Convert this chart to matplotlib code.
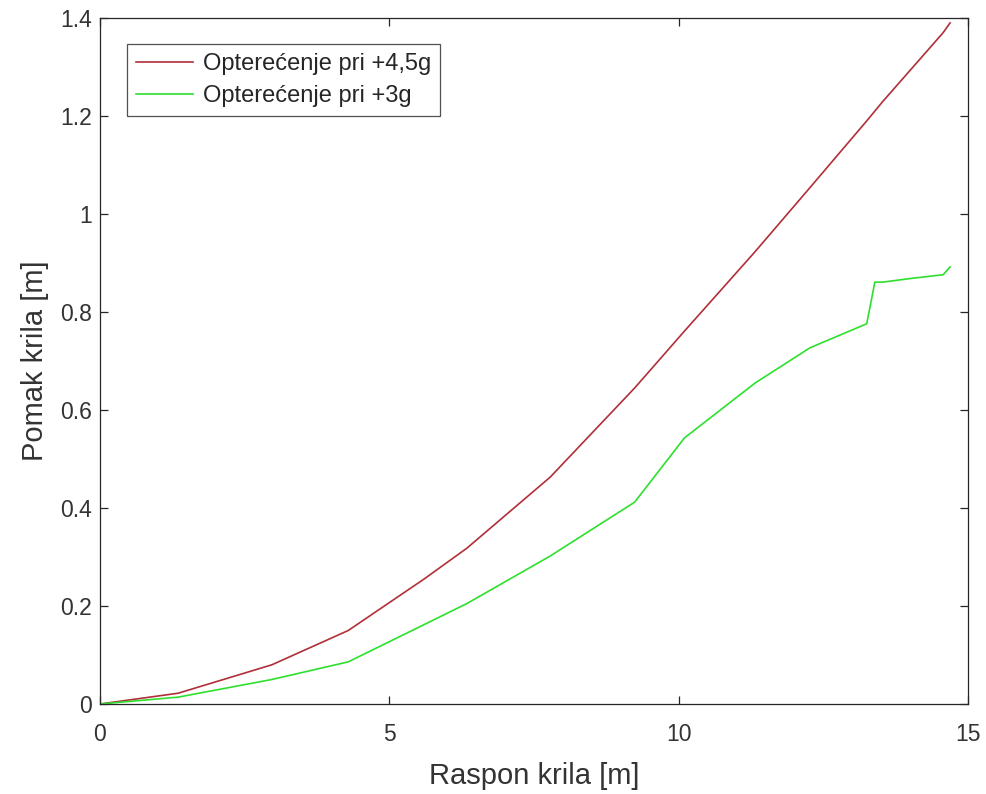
import matplotlib
matplotlib.use("Agg")
import matplotlib.pyplot as plt

# Data
span_x = [0, 1.35, 2.97, 4.29, 5.6, 6.34, 7.78, 9.24, 10.1, 11.32, 12.27,
          13.25, 13.39, 13.53, 14.05, 14.57, 14.69]
load_45g = [0, 0.022, 0.08, 0.150, 0.255, 0.318, 0.463, 0.645, 0.761, 0.923,
            1.054, 1.19, 1.21, 1.23, 1.30, 1.37, 1.39]
load_3g = [0, 0.014, 0.05, 0.086, 0.162, 0.205, 0.302, 0.412, 0.543, 0.655,
           0.727, 0.776, 0.861, 0.861, 0.869, 0.876, 0.892]
series_labels = ["Opterećenje pri +4,5g", "Opterećenje pri +3g"]
x_ticks = [0, 5, 10, 15]
y_ticks = [0, 0.2, 0.4, 0.6, 0.8, 1.0, 1.2, 1.4]
y_tick_labels = ["0", "0.2", "0.4", "0.6", "0.8", "1", "1.2", "1.4"]

plt.rcParams['font.family'] = ['Liberation Sans', 'DejaVu Sans']

fig = plt.figure(figsize=(9.86, 7.94), dpi=100)
ax = fig.add_axes([100/986, 90/794, 868/986, 686/794])

ax.plot(span_x, load_45g, color='#b02f38', lw=1.2, label=series_labels[0])
ax.plot(span_x, load_3g, color='#2ee02e', lw=1.2, label=series_labels[1])

ax.set_xlim(0, 15)
ax.set_ylim(0, 1.4)
ax.set_xticks(x_ticks)
ax.set_yticks(y_ticks)
ax.set_yticklabels(y_tick_labels)

for s in ax.spines.values():
    s.set_color('#262626')
    s.set_linewidth(0.9)
ax.tick_params(direction='in', length=6, width=0.9, colors='#262626',
               labelcolor='#333333', labelsize=16.5, top=True, right=True)
ax.tick_params(axis='x', pad=14)
ax.tick_params(axis='y', pad=6)

ax.set_xlabel("Raspon krila [m]", fontsize=21, color='#333333', labelpad=11)
ax.set_ylabel("Pomak krila [m]", fontsize=21, color='#333333', labelpad=8)

leg = ax.legend(loc='upper left', bbox_to_anchor=(27/868, 1 - 26/686),
                fontsize=17, frameon=True, fancybox=False, borderpad=0.4,
                handlelength=2.4, handletextpad=0.4, labelspacing=0.4,
                borderaxespad=0)
leg.get_frame().set_edgecolor('#262626')
leg.get_frame().set_linewidth(0.9)
for t in leg.get_texts():
    t.set_color('#262626')

fig.savefig("out.png", dpi=100)
